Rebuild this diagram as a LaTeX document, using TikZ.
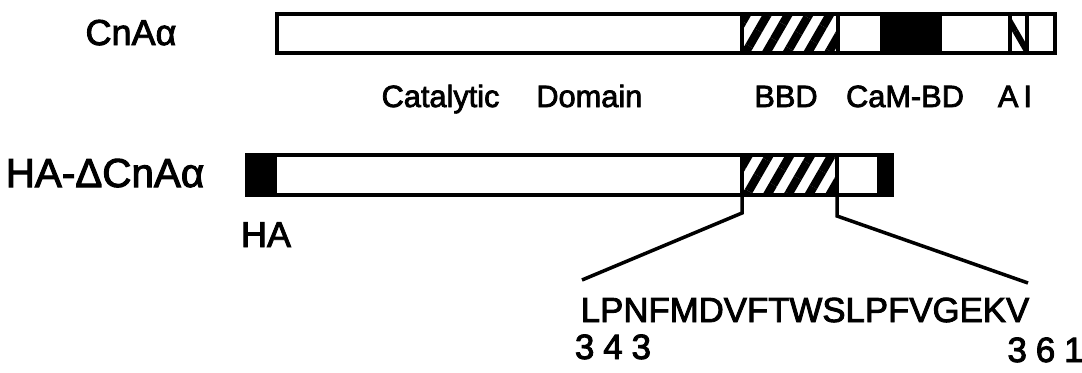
\documentclass[tikz,border=0pt]{standalone}
\usepackage{fontspec}
\setmainfont{Liberation Sans}[FakeBold=2.5]
\usetikzlibrary{patterns.meta}

\begin{document}
\begin{tikzpicture}[
    x=0.02cm, y=-0.02cm,
    every node/.style={inner sep=0pt},
    bar/.style={draw=black, line width=2.2pt},
    hatchbox/.style={pattern={Lines[angle=60, distance=0.36cm, line width=0.17cm]}},
    hatchai/.style={pattern={Lines[angle=-60, distance=0.5cm, line width=0.12cm]}},
    zoomline/.style={draw=black, line width=2pt, line join=miter},
    namelabel/.style={font=\fontsize{20.5}{20.5}\selectfont, anchor=base},
    constructlabel/.style={font=\fontsize{23}{23}\selectfont, anchor=base},
    domainlabel/.style={font=\fontsize{17.5}{17.5}\selectfont, anchor=base},
    seqlabel/.style={font=\fontsize{19.8}{19.8}\selectfont, anchor=base},
    numlabel/.style={font=\fontsize{20}{20}\selectfont, anchor=base}
]

% --- Rahmen (Pixelraster 1082 x 372, y nach unten) ---
\useasboundingbox (0,0) rectangle (1082,372);

% --- Zeile 1: CnA alpha (x 277 bis 1055, y 14 bis 53) ---
\fill[hatchbox] (742,14) rectangle (838,53);
\fill[black]    (880,14) rectangle (942,53);
\fill[hatchai]  (1010,14) rectangle (1027,53);
\draw[bar] (277,14) rectangle (1055,53);
\draw[bar] (742,14) -- (742,53);
\draw[bar] (838,14) -- (838,53);
\draw[bar] (1010,14) -- (1010,53);
\draw[bar] (1027,14) -- (1027,53);

% --- Zeile 2: HA-Delta CnA alpha (x 247 bis 892, y 155 bis 195) ---
\fill[black]    (247,155) rectangle (277,195);
\fill[hatchbox] (742,155) rectangle (837,195);
\fill[black]    (877,155) rectangle (892,195);
\draw[bar] (247,155) rectangle (892,195);
\draw[bar] (742,155) -- (742,195);
\draw[bar] (837,155) -- (837,195);

% --- Beschriftungen ---
\node[namelabel] (cna) at (131,45) {CnAα};
\node[domainlabel] (catdom) at (512,107) {Catalytic\hspace{1.2em}Domain};
\node[domainlabel] (bbd) at (786,107) {BBD};
\node[domainlabel] (cambd) at (905,107) {CaM-BD};
\node[domainlabel] (ai) at (1015,107) {A\,I};
\node[constructlabel] (hadcna) at (105,187) {HA-ΔCnAα};
\node[namelabel] (ha) at (266,247) {HA};

% --- Sequenz des BBD ---
\node[seqlabel] (seq) at (805,322) {LPNFMDVFTWSLPFVGEKV};
\node[numlabel] (numstart) at (613,359) {3\hspace{0.25em}4\hspace{0.25em}3};
\node[numlabel, anchor=base east] (numend) at (1084,362) {3\hspace{0.25em}6\hspace{0.25em}1};

% --- Vergroesserungslinien ---
\coordinate (bbdL) at (742,195);
\coordinate (bbdR) at (837,195);
\coordinate (kinkL) at (742,213);
\coordinate (kinkR) at (837,216);
\coordinate (seqL) at (582,280);
\coordinate (seqR) at (1028,283);
\draw[zoomline] (bbdL) -- (kinkL) -- (seqL);
\draw[zoomline] (bbdR) -- (kinkR) -- (seqR);

\end{tikzpicture}
\end{document}
